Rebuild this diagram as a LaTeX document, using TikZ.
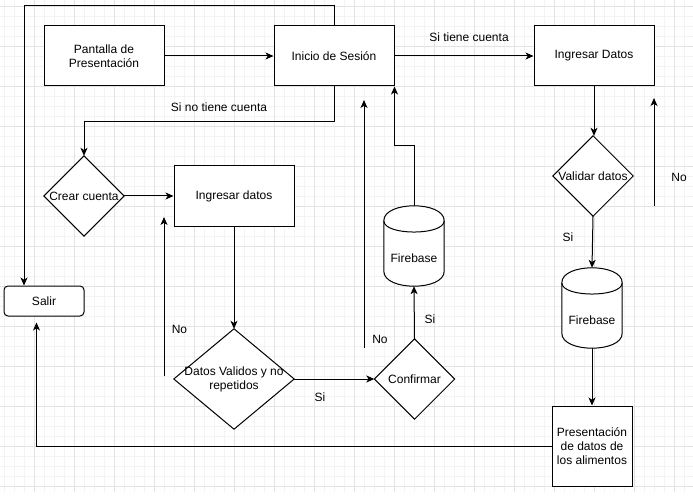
\documentclass[tikz,border=0pt]{standalone}
\usepackage{fontspec}
\setmainfont{Liberation Sans}
\usetikzlibrary{arrows.meta,calc}

\definecolor{gridminor}{HTML}{F3F3F3}
\definecolor{gridmajor}{HTML}{E3E3E3}

\tikzset{
  every node/.style={font=\fontsize{12}{14}\selectfont, text=black, align=center},
  conn/.style={line width=1pt, draw=black},
  arr/.style={conn, -{Stealth[length=8pt,width=7pt,inset=2.2pt]}},
  procbox/.style={draw=black, line width=1pt, rectangle, minimum width=120pt, minimum height=60pt, inner sep=0pt, fill=white},
  exitbox/.style={draw=black, line width=1pt, rectangle, rounded corners=4pt, minimum width=80pt, minimum height=30pt, inner sep=0pt, fill=white},
  frame/.style={rectangle, minimum width=#1, inner sep=0pt},
  dbbox/.style={rectangle, minimum width=60pt, minimum height=80pt, inner sep=0pt},
  lbl/.style={inner sep=0pt},
}

% diamond outline through the four side anchors of a box
\newcommand{\rhombus}[1]{%
  \draw[line width=1pt, fill=white] (#1.north) -- (#1.east) -- (#1.south) -- (#1.west) -- cycle;}
% database drum: top ellipse, straight sides, rounded bottom
\newcommand{\drum}[1]{%
  \draw[line width=1pt, fill=white]
    ($(#1.north west)+(0,15)$) .. controls ($(#1.north west)+(0,-5)$) and ($(#1.north east)+(0,-5)$) .. ($(#1.north east)+(0,15)$)
    -- ($(#1.south east)+(0,-15)$) .. controls ($(#1.south east)+(0,5)$) and ($(#1.south west)+(0,5)$) .. ($(#1.south west)+(0,-15)$)
    -- cycle;
  \draw[line width=1pt]
    ($(#1.north west)+(0,15)$) .. controls ($(#1.north west)+(0,30)$) and ($(#1.north east)+(0,30)$) .. ($(#1.north east)+(0,15)$);}

\begin{document}
\begin{tikzpicture}[x=1pt, y=-1pt]
  % page
  \fill[white] (0,0) rectangle (693,497);
  \useasboundingbox (0,0) rectangle (693,497);

  % background grid
  \foreach \gx in {4.5,14.5,...,693} \draw[gridminor, line width=0.8pt] (\gx,0) -- (\gx,492);
  \foreach \gy in {6.5,16.5,...,492} \draw[gridminor, line width=0.8pt] (0,\gy) -- (693,\gy);
  \foreach \gx in {34.5,74.5,...,693} \draw[gridmajor, line width=0.9pt] (\gx,0) -- (\gx,492);
  \foreach \gy in {6.5,46.5,...,492} \draw[gridmajor, line width=0.9pt] (0,\gy) -- (693,\gy);

  % boxes
  \node[procbox] (pantalla) at (104,56) {Pantalla de\\Presentación};
  \node[procbox] (inicio) at (334,56) {Inicio de Sesión};
  \node[procbox] (ingD) at (594,56) {Ingresar Datos};
  \node[procbox] (ingd) at (234,196) {Ingresar datos};
  \node[exitbox] (salir) at (44,301) {Salir};
  \node[procbox, minimum width=80pt, minimum height=80pt] (pres) at (592,446) {Presentación\\de datos de\\los alimentos};

  % decisions
  \node[frame=80pt, minimum height=80pt] (crear) at (84,196) {};
  \rhombus{crear}
  \node at (crear.center) {Crear cuenta};

  \node[frame=120pt, minimum height=100pt] (valid) at (234,379) {};
  \rhombus{valid}
  \node at (valid.center) {Datos Validos y no\\repetidos};

  \node[frame=80pt, minimum height=80pt] (conf) at (414.5,379) {};
  \rhombus{conf}
  \node at (conf.center) {Confirmar};

  \node[frame=80pt, minimum height=80pt] (valD) at (593,176) {};
  \rhombus{valD}
  \node at (valD.center) {Validar datos};

  % databases
  \node[dbbox] (fb1) at (414,246) {};
  \drum{fb1}
  \node (fb1text) at ($(fb1.center)+(0,12.5)$) {Firebase};

  \node[dbbox] (fb2) at (592,308) {};
  \drum{fb2}
  \node (fb2text) at ($(fb2.center)+(0,12.5)$) {Firebase};

  % loose ends of the return arrows
  \coordinate (loopTL) at (24,6);
  \coordinate (noA0) at (164,376);
  \coordinate (noA1) at (164,217);
  \coordinate (noB0) at (364,348);
  \coordinate (noB1) at (364,100);
  \coordinate (noC0) at (654,206);
  \coordinate (noC1) at (654,98);
  \coordinate (salirIn) at ($(salir.south west)+(33,6)$);

  % connectors
  \draw[arr] (pantalla.east) -- (inicio.west);
  \draw[arr] (inicio.east) -- (ingD.west);
  \draw[arr] (inicio.north) |- (loopTL) -- (loopTL |- salir.north);
  \draw[arr] (inicio.south) -- ++(0,35) -| (crear.north);
  \draw[arr] (crear.east) -- (ingd.west);
  \draw[arr] (ingd.south) -- (valid.north);
  \draw[arr] (noA0) -- (noA1);
  \draw[arr] (valid.east) -- (conf.west);
  \draw[arr] (conf.north) -- (fb1.south);
  \draw[arr] (fb1.north) -- ++(0,-60) -| (inicio.south east);
  \draw[arr] (noB0) -- (noB1);
  \draw[arr] (ingD.south) -- (ingD.south |- valD.north);
  \draw[arr] (valD.south) -- (fb2.north);
  \draw[arr] (noC0) -- (noC1);
  \draw[arr] (fb2.south) -- (pres.north);
  \draw[arr] (pres.west) -| (salirIn);

  % connector labels
  \node[lbl] (l1) at (469,37) {Si tiene cuenta};
  \node[lbl] (l2) at (219,107) {Si no tiene cuenta};
  \node[lbl] (l3) at (179.5,329) {No};
  \node[lbl] (l4) at (320,397) {Si};
  \node[lbl] (l5) at (430,319) {Si};
  \node[lbl] (l6) at (380,339) {No};
  \node[lbl] (l7) at (568,237) {Si};
  \node[lbl] (l8) at (679,177) {No};
\end{tikzpicture}
\end{document}
